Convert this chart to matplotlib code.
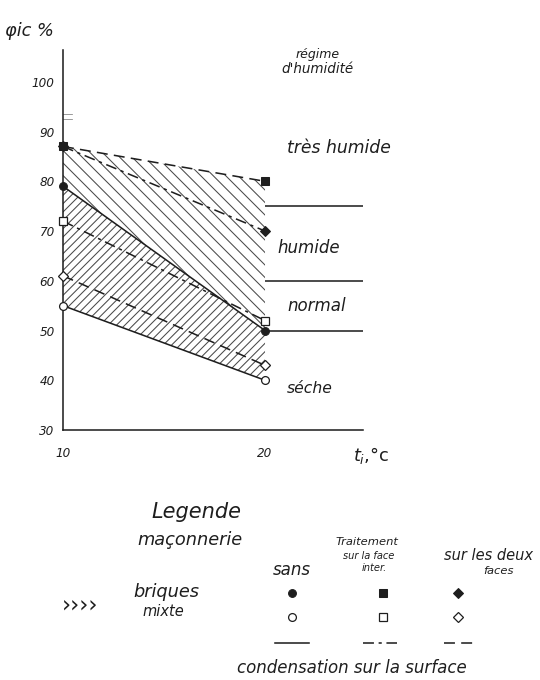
import matplotlib
matplotlib.use("Agg")
import matplotlib.pyplot as plt
import numpy as np

# ---------------- data ----------------
temps = [10, 20]                      # t_i, °C
brick_sans = [79, 50]                 # briques, sans traitement (filled circle)
brick_inner = [87, 80]                # briques, traitement face intérieure (filled square)
brick_both = [87, 70]                 # briques, deux faces (filled diamond)
mixed_sans = [55, 40]                 # mixte, sans (open circle)
mixed_inner = [72, 52]                # mixte, face intérieure (open square)
mixed_both = [61, 43]                 # mixte, deux faces (open diamond)
regime_limits = [75, 60, 50]          # limits of humidity regimes
regime_names = ["très humide", "humide", "normal", "séche"]
regime_label_y = [86.6, 66.6, 55, 38.4]
cond_marks = [93.5, 92.5]
yticks = [30, 40, 50, 60, 70, 80, 90, 100]
xticks = [10, 20]

DPI = 75
W, H = 540, 680
fig = plt.figure(figsize=(W / DPI, H / DPI), dpi=DPI)
plt.rcParams['hatch.linewidth'] = 1.0

FONT = dict(family="DejaVu Sans", style="italic")
INK = "#1e1e1e"
LW = 1.5

ax = fig.add_axes([63 / W, (H - 430) / H, 300 / W, 380 / H])
ax.set_xlim(10, 24.85)
ax.set_ylim(30, 106.4)
for s in ["top", "right"]:
    ax.spines[s].set_visible(False)
for s in ["left", "bottom"]:
    ax.spines[s].set_color(INK)
    ax.spines[s].set_linewidth(1.5)
ax.tick_params(length=0, labelsize=11.5, colors=INK)
ax.set_yticks(yticks)
ax.set_yticklabels([str(v) for v in yticks], **FONT)
ax.tick_params(axis="y", pad=8)
ax.set_xticks(xticks)
ax.set_xticklabels([str(v) for v in xticks], **FONT)
ax.tick_params(axis="x", pad=16)

# hatched regions
ax.fill_between(temps, brick_sans, brick_inner, facecolor="none",
                edgecolor="#4a4a4a", linewidth=0, hatch="\\\\")
ax.fill_between(temps, mixed_sans, brick_sans, facecolor="none",
                edgecolor="#4a4a4a", linewidth=0, hatch="///")

# lines
dashdot = (0, (7, 3, 2, 3))
dashed = (0, (7, 4))
ax.plot(temps, brick_sans, color=INK, lw=LW, ls="-")
ax.plot(temps, brick_inner, color=INK, lw=LW, ls=dashed)
ax.plot(temps, brick_both, color=INK, lw=LW, ls=dashdot)
ax.plot(temps, mixed_sans, color=INK, lw=LW, ls="-")
ax.plot(temps, mixed_inner, color=INK, lw=LW, ls=dashdot)
ax.plot(temps, mixed_both, color=INK, lw=LW, ls=dashed)

# markers
ms = 7.5
mk = dict(ls="none", color=INK, clip_on=False, zorder=5)
ax.plot(temps, brick_both, marker="D", ms=ms - 1, mfc=INK, **mk)
ax.plot(temps, brick_inner, marker="s", ms=ms, mfc=INK, **mk)
ax.plot(temps, brick_sans, marker="o", ms=ms, mfc=INK, **mk)
ax.plot(temps, mixed_inner, marker="s", ms=ms, mfc="white", mew=1.2, **mk)
ax.plot(temps, mixed_both, marker="D", ms=ms - 1, mfc="white", mew=1.2, **mk)
ax.plot(temps, mixed_sans, marker="o", ms=ms, mfc="white", mew=1.2, **mk)

# condensation marks near the top of the y axis
for y in cond_marks:
    ax.plot([10, 10.45], [y, y], color="#777777", lw=0.7, clip_on=False)

# humidity regimes
ax.hlines(regime_limits, 20, 24.85, color=INK, lw=LW)
ax.text(21.1, regime_label_y[0], regime_names[0], fontsize=16.5, color=INK, va="center", **FONT)
ax.text(20.6, regime_label_y[1], regime_names[1], fontsize=16, color=INK, va="center", **FONT)
ax.text(21.1, regime_label_y[2], regime_names[2], fontsize=16, color=INK, va="center", **FONT)
ax.text(21.1, regime_label_y[3], regime_names[3], fontsize=15, color=INK, va="center", **FONT)
ax.text(22.6, 105.4, "régime", fontsize=12, color=INK, ha="center", va="center", clip_on=False, **FONT)
ax.text(22.6, 102.6, "d'humidité", fontsize=13, color=INK, ha="center", va="center", clip_on=False, **FONT)

# axis titles
fig.text(5 / W, 1 - 31 / H, "φic %", fontsize=17, color=INK, va="center", **FONT)
fig.text(353 / W, 1 - 456 / H, "$t_i$,°c", fontsize=17, color=INK, va="center")

# ---------------- legend block ----------------
lg = fig.add_axes([0, 0, 1, 1 - 470 / H])
lg.set_xlim(0, W)
lg.set_ylim(H, 470)
lg.axis("off")
lg.patch.set_alpha(0)

lg.text(196, 512, "Legende", fontsize=20, color=INK, ha="center", va="center", **FONT)
lg.text(190, 540, "maçonnerie", fontsize=17, color=INK, ha="center", va="center", **FONT)
lg.text(80, 605, "››››", fontsize=22, color=INK, ha="center", va="center", family="DejaVu Sans")
lg.text(133, 592, "briques", fontsize=17, color=INK, ha="left", va="center", **FONT)
lg.text(142, 612, "mixte", fontsize=14, color=INK, ha="left", va="center", **FONT)

col_x = [292, 383, 458]
lg.text(col_x[0], 570, "sans", fontsize=16, color=INK, ha="center", va="center", **FONT)
lg.text(367, 542, "Traitement", fontsize=11, color=INK, ha="center", va="center", **FONT)
lg.text(369, 556, "sur la face", fontsize=9.5, color=INK, ha="center", va="center", **FONT)
lg.text(374, 568, "inter.", fontsize=9.5, color=INK, ha="center", va="center", **FONT)
lg.text(489, 556, "sur les deux", fontsize=14, color=INK, ha="center", va="center", **FONT)
lg.text(498, 571, "faces", fontsize=11, color=INK, ha="center", va="center", **FONT)

markers = ["o", "s", "D"]
for cx, m in zip(col_x, markers):
    s = ms - 1 if m == "D" else ms
    lg.plot([cx], [593], marker=m, ms=s, color=INK, mfc=INK, ls="none")
    lg.plot([cx], [617], marker=m, ms=s, color=INK, mfc="white", mew=1.2, ls="none")

styles = ["-", dashdot, dashed]
for cx, st in zip([292, 380, 461], styles):
    lg.plot([cx - 17, cx + 17], [643, 643], color=INK, lw=LW, ls=st)

lg.text(352, 668, "condensation sur la surface", fontsize=16, color=INK,
        ha="center", va="center", **FONT)

fig.savefig("out.png", dpi=DPI, facecolor="white")
